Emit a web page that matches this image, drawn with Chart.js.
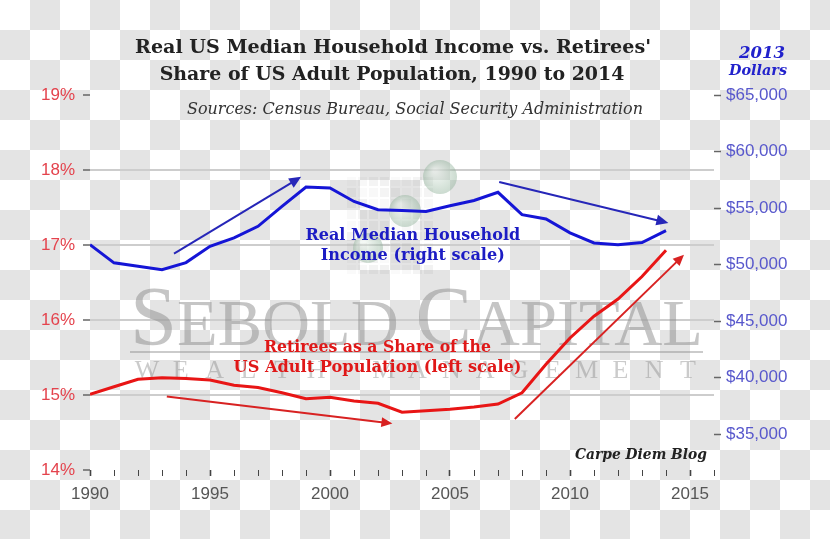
<!DOCTYPE html>
<html>
<head>
<meta charset="utf-8">
<title>Real US Median Household Income vs. Retirees' Share</title>
<script src="https://cdn.jsdelivr.net/npm/chart.js@4.4.1/dist/chart.umd.min.js"></script>
<style>
  html, body {
    margin: 0;
    padding: 0;
    width: 830px;
    height: 539px;
    overflow: hidden;
    background-color: #fff;
    background-image: conic-gradient(#e4e4e4 0 25%, #fff 0 50%, #e4e4e4 0 75%, #fff 0);
    background-size: 60px 60px;
  }
  #wrap { position: relative; width: 830px; height: 539px; }
</style>
</head>
<body>
<div id="wrap"><canvas id="chart"></canvas></div>
<script>
// values
const years = [1990, 1991, 1992, 1993, 1994, 1995, 1996, 1997, 1998, 1999, 2000, 2001, 2002,
               2003, 2004, 2005, 2006, 2007, 2008, 2009, 2010, 2011, 2012, 2013, 2014];
const income = [51760, 50150, 49850, 49550, 50170, 51610, 52350, 53380, 55140, 56850, 56770, 55580, 54850,
                54790, 54700, 55200, 55670, 56390, 54410, 54030, 52800, 51910, 51760, 51940, 53000];
const retireeShare = [15.01, 15.11, 15.21, 15.23, 15.22, 15.20, 15.13, 15.10, 15.03, 14.95, 14.97, 14.92, 14.89,
                      14.77, 14.79, 14.81, 14.84, 14.88, 15.03, 15.41, 15.76, 16.05, 16.28, 16.58, 16.93];
const leftTicks = [14, 15, 16, 17, 18, 19];
const rightTicks = [35000, 40000, 45000, 50000, 55000, 60000, 65000];

// trend arrows [fromYear, fromValue, toYear, toValue]
const incomeArrows = [[1993.5, 50970, 1998.8, 57760], [2007.05, 57300, 2014.1, 53680]];
const shareArrows = [[1993.2, 14.98, 2002.6, 14.62], [2007.7, 14.68, 2014.75, 16.87]];

const serif = "'DejaVu Serif', 'Liberation Serif', serif";
const sans = "'Liberation Sans', Arial, sans-serif";

function fitText(ctx, txt, cx, cy, w, style, family, color) {
    ctx.font = style + ' 100px ' + family;
    const m = ctx.measureText(txt).width;
    ctx.font = style + ' ' + (100 * w / m).toFixed(2) + 'px ' + family;
    ctx.fillStyle = color;
    ctx.textAlign = 'center';
    ctx.textBaseline = 'middle';
    ctx.fillText(txt, cx, cy);
}

function arrow(ctx, x1, y1, x2, y2, color, width, head) {
    const a = Math.atan2(y2 - y1, x2 - x1);
    const c = Math.cos(a), s = Math.sin(a);
    ctx.strokeStyle = color;
    ctx.lineWidth = width;
    ctx.beginPath();
    ctx.moveTo(x1, y1);
    ctx.lineTo(x2 - c * head * 0.8, y2 - s * head * 0.8);
    ctx.stroke();
    ctx.fillStyle = color;
    ctx.beginPath();
    ctx.moveTo(x2, y2);
    ctx.lineTo(x2 - head * c + head * 0.45 * s, y2 - head * s - head * 0.45 * c);
    ctx.lineTo(x2 - head * c - head * 0.45 * s, y2 - head * s + head * 0.45 * c);
    ctx.closePath();
    ctx.fill();
}

const watermark = {
    id: 'watermark',
    beforeDatasetsDraw(chart) {
        const ctx = chart.ctx;
        ctx.save();
        // faint logo: grid of squares and circles
        for (let r = 0; r < 9; r++) {
            for (let c = 0; c < 8; c++) {
                const alpha = 0.05 + 0.07 * ((r * 3 + c * 5) % 4) / 3;
                ctx.fillStyle = 'rgba(150,150,150,' + alpha.toFixed(2) + ')';
                ctx.fillRect(347 + c * 11, 177 + r * 11, 9, 9);
            }
        }
        [[440, 177, 17], [405, 211, 16], [368, 248, 15]].forEach(([x, y, rad]) => {
            const g = ctx.createRadialGradient(x - 5, y - 6, 2, x, y, rad);
            g.addColorStop(0, 'rgba(230,240,232,0.45)');
            g.addColorStop(1, 'rgba(140,175,150,0.45)');
            ctx.fillStyle = g;
            ctx.beginPath();
            ctx.arc(x, y, rad, 0, Math.PI * 2);
            ctx.fill();
        });

        // SEBOLD CAPITAL
        const parts = [['S', 84], ['EBOLD', 66], [' ', 66], ['C', 84], ['APITAL', 66]];
        const fam = "'Liberation Serif', serif";
        let total = 0;
        parts.forEach(p => { ctx.font = p[1] + 'px ' + fam; total += ctx.measureText(p[0]).width; });
        const left = 130, right = 703, base = 345;
        const k = (right - left) / total;
        ctx.fillStyle = 'rgba(140,140,140,0.5)';
        ctx.textAlign = 'left';
        ctx.textBaseline = 'alphabetic';
        ctx.save();
        ctx.translate(left, base);
        ctx.scale(k, 1);
        let x = 0;
        parts.forEach(p => {
            ctx.font = p[1] + 'px ' + fam;
            ctx.fillText(p[0], x, 0);
            x += ctx.measureText(p[0]).width;
        });
        ctx.restore();
        ctx.strokeStyle = 'rgba(140,140,140,0.45)';
        ctx.lineWidth = 2;
        ctx.beginPath();
        ctx.moveTo(130, 352);
        ctx.lineTo(703, 352);
        ctx.stroke();

        // WEALTH MANAGEMENT
        const wm = 'WEALTH MANAGEMENT';
        ctx.font = '26px ' + fam;
        ctx.textAlign = 'center';
        ctx.fillStyle = 'rgba(140,140,140,0.45)';
        const pitch = (688 - 147) / (wm.length - 1);
        for (let i = 0; i < wm.length; i++) {
            ctx.fillText(wm[i], 147 + i * pitch, 378);
        }
        ctx.restore();
    }
};

const overlay = {
    id: 'overlay',
    afterDatasetsDraw(chart) {
        const ctx = chart.ctx;
        const xs = chart.scales.x, yl = chart.scales.y, yr = chart.scales.y1;
        ctx.save();
        incomeArrows.forEach(a => arrow(ctx, xs.getPixelForValue(a[0]), yr.getPixelForValue(a[1]),
            xs.getPixelForValue(a[2]), yr.getPixelForValue(a[3]), '#2626b8', 2, 12));
        shareArrows.forEach(a => arrow(ctx, xs.getPixelForValue(a[0]), yl.getPixelForValue(a[1]),
            xs.getPixelForValue(a[2]), yl.getPixelForValue(a[3]), '#d82222', 2, 11));

        // series labels
        let cx = xs.getPixelForValue(2003.45), cy = yr.getPixelForValue(51670);
        fitText(ctx, 'Real Median Household', cx, cy - 10, 215, 'bold', serif, '#1c1cc4');
        fitText(ctx, 'Income (right scale)', cx, cy + 10, 184, 'bold', serif, '#1c1cc4');
        cx = xs.getPixelForValue(2001.98); cy = yl.getPixelForValue(15.5);
        fitText(ctx, 'Retirees as a Share of the', cx, cy - 10, 227, 'bold', serif, '#e01818');
        fitText(ctx, 'US Adult Population (left scale)', cx, cy + 10, 288, 'bold', serif, '#e01818');
        ctx.restore();
    },
    afterDraw(chart) {
        const ctx = chart.ctx;
        ctx.save();
        fitText(ctx, "Real US Median Household Income vs. Retirees'", 393, 48, 516, 'bold', serif, '#222');
        fitText(ctx, 'Share of US Adult Population, 1990 to 2014', 392, 75, 465, 'bold', serif, '#222');
        fitText(ctx, 'Sources: Census Bureau, Social Security Administration', 415, 110, 456, 'italic', serif, '#333');
        fitText(ctx, 'Carpe Diem Blog', 641, 455, 132, 'italic bold', serif, '#222');
        fitText(ctx, '2013', 762, 54, 46, 'italic bold', serif, '#2222cc');
        fitText(ctx, 'Dollars', 758, 71, 58, 'italic bold', serif, '#2222cc');
        ctx.restore();
    }
};

new Chart(document.getElementById('chart'), {
    type: 'line',
    data: {
        datasets: [{
            label: 'Real Median Household Income',
            data: years.map((y, i) => ({ x: y, y: income[i] })),
            yAxisID: 'y1',
            borderColor: '#1515d6',
            borderWidth: 3,
            pointRadius: 0,
            tension: 0
        }, {
            label: 'Retirees as a Share of the US Adult Population',
            data: years.map((y, i) => ({ x: y, y: retireeShare[i] })),
            yAxisID: 'y',
            borderColor: '#e81515',
            borderWidth: 3,
            pointRadius: 0,
            tension: 0
        }]
    },
    options: {
        responsive: true,
        maintainAspectRatio: false,
        animation: false,
        layout: { padding: { top: 95 } },
        plugins: {
            legend: { display: false },
            tooltip: { enabled: false }
        },
        scales: {
            x: {
                type: 'linear',
                min: 1990,
                max: 2016,
                afterFit: s => { s.height = 69; },
                border: { display: false },
                grid: {
                    drawOnChartArea: false,
                    tickLength: 6,
                    tickColor: '#444',
                    tickWidth: c => (c.tick && c.tick.value % 5 === 0) ? 1.6 : 1
                },
                ticks: {
                    stepSize: 1,
                    autoSkip: false,
                    maxRotation: 0,
                    padding: 8,
                    color: '#555',
                    font: { family: sans, size: 17 },
                    callback: v => v % 5 === 0 ? String(v) : ''
                }
            },
            y: {
                position: 'left',
                min: 14,
                max: 19,
                afterFit: s => { s.width = 90; },
                afterBuildTicks: s => { s.ticks = leftTicks.map(v => ({ value: v })); },
                border: { display: false },
                grid: {
                    color: c => (c.tick && c.tick.value > 14 && c.tick.value < 19) ? '#cdcdcd' : 'rgba(0,0,0,0)',
                    lineWidth: 2,
                    tickColor: '#666',
                    tickLength: 7,
                    tickWidth: 1.5
                },
                ticks: {
                    padding: 8,
                    color: '#e4434d',
                    font: { family: sans, size: 17 },
                    callback: v => v + '%'
                }
            },
            y1: {
                position: 'right',
                min: 31820,
                max: 65000,
                afterFit: s => { s.width = 116; },
                afterBuildTicks: s => { s.ticks = rightTicks.map(v => ({ value: v })); },
                border: { display: false },
                grid: {
                    drawOnChartArea: false,
                    tickColor: '#666',
                    tickLength: 7,
                    tickWidth: 1.5
                },
                ticks: {
                    padding: 5,
                    color: '#5858cc',
                    font: { family: sans, size: 17 },
                    callback: v => '$' + v.toLocaleString('en-US')
                }
            }
        }
    },
    plugins: [watermark, overlay]
});
</script>
</body>
</html>
